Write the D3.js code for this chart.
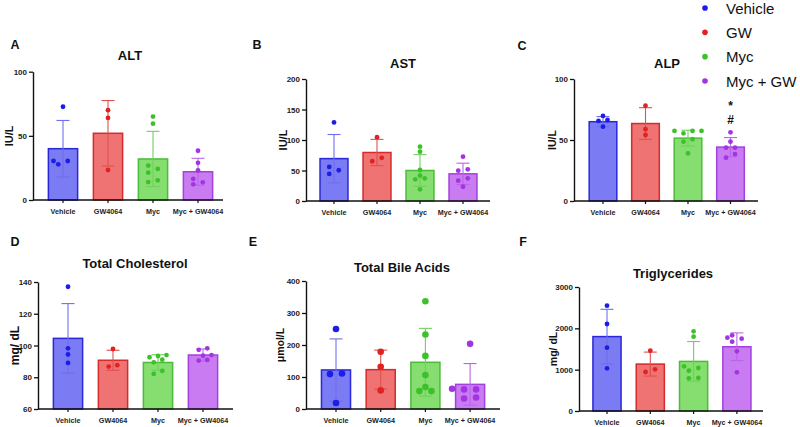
<!DOCTYPE html>
<html><head><meta charset="utf-8">
<script src="https://cdn.jsdelivr.net/npm/d3@7"></script>
<style>body{margin:0;background:#fff}svg{display:block;font-family:"Liberation Sans",Arial,Helvetica,sans-serif}</style>
</head><body><svg id="c" width="800" height="427"></svg>
<script>
const groups = ["Vehicle", "GW4064", "Myc", "Myc + GW4064"];
const legendLabels = ["Vehicle", "GW", "Myc", "Myc + GW"];

const altMean = [40, 52, 32, 22];
const altSD = [22, 25.5, 21.5, 10.5];
const altPts = [[72.7, 27.8, 30.4, 30.4], [70, 64, 23.4], [65, 59.5, 26.8, 24.2, 21.3, 14, 15.3], [38.4, 29, 23, 16.4, 12.2, 13.8]];
const altTicks = [0, 50, 100];

const astMean = [69.5, 79.5, 50, 44.5];
const astSD = [39.5, 21.5, 26, 17.5];
const astPts = [[128.8, 55.9, 44.4, 50.4], [104.7, 70.7, 65.2], [89, 80.8, 50.8, 41.5, 37.2, 35.6, 19.2], [72.6, 52, 49.7, 37.2, 33.3, 23.4]];
const astTicks = [0, 50, 100, 150, 200];

const alpMean = [65, 63.5, 51.5, 44.2];
const alpSD = [4.2, 13, 6.5, 7.8];
const alpPts = [[69.7, 66.4, 65.6, 60.9], [78.1, 58.8, 54.1], [57.4, 57.4, 57.4, 55.5, 50.6, 48.6, 39.1], [56.3, 48.6, 43.7, 43.7, 38.5, 35.5]];
const alpTicks = [0, 50, 100];
const alpMarks = ["*", "#"];

const cholMean = [104.5, 90.7, 89.3, 94];
const cholSD = [21.9, 6.3, 4.9, 3.8];
const cholPts = [[137, 98.2, 94.4, 89], [97.8, 86.7, 87.6], [94, 92.6, 93.4, 91.1, 89.4, 84, 82.1], [97.3, 98.2, 93.6, 94, 90.5, 90.9]];
const cholTicks = [60, 80, 100, 120, 140];

const tbaMean = [122, 123, 146, 77];
const tbaSD = [97, 61, 106, 65];
const tbaPts = [[250, 111, 109, 18.7], [178.7, 132, 58.2], [336.6, 232.7, 166, 106, 68.6, 56, 56], [203.6, 63.4, 61.3, 61.3, 33, 36]];
const tbaTicks = [0, 100, 200, 300, 400];

const tgMean = [1800, 1135, 1200, 1555];
const tgSD = [660, 290, 480, 335];
const tgPts = [[2548, 2105, 1532, 1032], [1460, 1008, 944], [1927, 1798, 1081, 1040, 976, 790, 798], [1831, 1774, 1750, 1677, 1444, 935]];
const tgTicks = [0, 1000, 2000, 3000];

const fills = ["#7b7bf4", "#ef7373", "#85de6f", "#c97cf1"];
const strokes = ["#2828d8", "#d42b2b", "#4cbd3a", "#a440de"];
const dotCols = ["#1d1de8", "#e02222", "#3dc12b", "#a334e2"];
const errCols = ["#6f6fee", "#e05050", "#72d05e", "#b865ea"];

const panels = [
  {letter:"A", title:"ALT", ylabel:"IU/L", mean:altMean, sd:altSD, pts:altPts, ticks:altTicks,
   x0:33, yb:200, yt:71.7, first:30, step:45, len:190, tx:130, ty:55, lx:15, ly:45, ylx:9, ylfs:11, r:2.4, d:9.5},
  {letter:"B", title:"AST", ylabel:"IU/L", mean:astMean, sd:astSD, pts:astPts, ticks:astTicks,
   x0:306, yb:201, yt:79, first:28, step:43, len:184, tx:403, ty:63, lx:257, ly:45, ylx:283, ylfs:11, r:2.4, d:9.5},
  {letter:"C", title:"ALP", ylabel:"IU/L", mean:alpMean, sd:alpSD, pts:alpPts, ticks:alpTicks, marks:alpMarks,
   x0:574, yb:201, yt:79, first:29, step:42.5, len:184, tx:667, ty:63, lx:522, ly:46, ylx:552, ylfs:10.5, r:2.4, d:9},
  {letter:"D", title:"Total Cholesterol", ylabel:"mg/ dL", mean:cholMean, sd:cholSD, pts:cholPts, ticks:cholTicks,
   x0:38, yb:409, yt:282, first:30, step:45, len:195, tx:135, ty:263, lx:15, ly:242, ylx:15, ylfs:12, r:2.4, d:8.5},
  {letter:"E", title:"Total Bile Acids", ylabel:"\u03bcmol/L", mean:tbaMean, sd:tbaSD, pts:tbaPts, ticks:tbaTicks,
   x0:306, yb:409, yt:281, first:30, step:44.7, len:194, tx:402, ty:267, lx:253, ly:242, ylx:280, ylfs:10.5, r:3.3, d:12},
  {letter:"F", title:"Triglycerides", ylabel:"mg/ dL", mean:tgMean, sd:tgSD, pts:tgPts, ticks:tgTicks,
   x0:579, yb:411, yt:287, first:28, step:43.3, len:184, tx:673, ty:273, lx:523, ly:242, ylx:553, ylfs:10.5, r:2.4, d:9.5}
];

function jitter(pys, d, r, T) {
  const n = pys.length;
  const idx = d3.range(n).sort((a, b) => pys[b] - pys[a]);
  const xs = new Array(n).fill(0);
  const clusters = []; let cur = [];
  idx.forEach(i => {
    if (cur.length && Math.abs(pys[i] - pys[cur[cur.length - 1]]) > T) { clusters.push(cur); cur = []; }
    cur.push(i);
  });
  if (cur.length) clusters.push(cur);
  const placed = [];
  const minD = 2 * r + 0.3;
  clusters.forEach(c => {
    if (c.length === 1) { xs[c[0]] = 0; placed.push(c[0]); return; }
    c.forEach((i, k) => {
      const s = k % 2 === 0 ? -1 : 1;
      const cands = [s * d / 2, -s * d / 2, 0, s * d, -s * d, s * 1.5 * d, -s * 1.5 * d, s * 2 * d, -s * 2 * d];
      for (const cx of cands) {
        if (placed.every(j => Math.hypot(xs[j] - cx, pys[j] - pys[i]) >= minD)) { xs[i] = cx; break; }
      }
      placed.push(i);
    });
  });
  return xs;
}

const svg = d3.select("#c");

panels.forEach(p => {
  const g = svg.append("g");
  const y = d3.scaleLinear().domain([p.ticks[0], p.ticks[p.ticks.length - 1]]).range([p.yb, p.yt]);
  const x = d3.scaleBand().domain(groups)
    .range([p.x0 + p.first - p.step / 2, p.x0 + p.first + 3.5 * p.step]).padding(0);
  const bw = p.step * 0.65;

  // bars
  g.selectAll("rect.bar").data(groups).join("rect")
    .attr("x", d => x(d) + x.bandwidth() / 2 - bw / 2)
    .attr("y", (d, i) => y(p.mean[i]))
    .attr("width", bw)
    .attr("height", (d, i) => y(p.ticks[0]) - y(p.mean[i]))
    .attr("fill", (d, i) => fills[i])
    .attr("stroke", (d, i) => strokes[i])
    .attr("stroke-width", 1.5);

  // error bars
  groups.forEach((gname, i) => {
    const cx = x(gname) + x.bandwidth() / 2;
    const lo = Math.max(p.mean[i] - p.sd[i], p.ticks[0]);
    const hi = p.mean[i] + p.sd[i];
    const eg = g.append("g").attr("stroke", errCols[i]).attr("stroke-width", 1.1).attr("fill", "none");
    eg.append("line").attr("x1", cx).attr("x2", cx).attr("y1", y(lo)).attr("y2", y(hi));
    eg.append("line").attr("x1", cx - 6.5).attr("x2", cx + 6.5).attr("y1", y(hi)).attr("y2", y(hi));
    if (p.mean[i] - p.sd[i] > p.ticks[0])
      eg.append("line").attr("x1", cx - 6.5).attr("x2", cx + 6.5).attr("y1", y(lo)).attr("y2", y(lo));
  });

  // dots
  groups.forEach((gname, i) => {
    const cx = x(gname) + x.bandwidth() / 2;
    const pys = p.pts[i].map(v => y(v));
    const xs = jitter(pys, p.d, p.r, 4.5);
    g.append("g").selectAll("circle").data(p.pts[i]).join("circle")
      .attr("cx", (v, k) => cx + xs[k])
      .attr("cy", v => y(v))
      .attr("r", p.r)
      .attr("fill", dotCols[i]);
  });

  // annotation marks
  if (p.marks) {
    const cx = x(groups[3]) + x.bandwidth() / 2;
    g.selectAll("text.mark").data(p.marks).join("text")
      .attr("x", cx).attr("y", (d, k) => 106 + k * 14)
      .attr("text-anchor", "middle").attr("dominant-baseline", "central")
      .attr("font-size", 12).attr("font-weight", "bold").attr("fill", "#111").text(d => d);
  }

  // y axis
  const ya = g.append("g").attr("transform", `translate(${p.x0},0)`)
    .call(d3.axisLeft(y).tickValues(p.ticks).tickFormat(d3.format("d")).tickSize(4).tickSizeOuter(0).tickPadding(2));
  ya.select(".domain").attr("stroke", "#111").attr("stroke-width", 1.4);
  ya.selectAll(".tick line").attr("stroke", "#111").attr("stroke-width", 1.3);
  ya.selectAll(".tick text").attr("font-size", 8).attr("font-weight", "bold").attr("fill", "#222")
    .style("font-family", '"Liberation Sans",Arial,sans-serif');

  // x axis
  const xa = g.append("g").attr("transform", `translate(0,${p.yb})`)
    .call(d3.axisBottom(x).tickSize(3).tickSizeOuter(0).tickPadding(5.5));
  xa.select(".domain").remove();
  xa.append("line").attr("x1", p.x0).attr("x2", p.x0 + p.len).attr("y1", 0).attr("y2", 0)
    .attr("stroke", "#111").attr("stroke-width", 1.4);
  xa.selectAll(".tick line").attr("stroke", "#111").attr("stroke-width", 1.2);
  xa.selectAll(".tick text").attr("font-size", 7.2).attr("font-weight", "bold").attr("fill", "#222")
    .style("font-family", '"Liberation Sans",Arial,sans-serif');

  // title
  g.append("text").attr("x", p.tx).attr("y", p.ty).attr("text-anchor", "middle")
    .attr("dominant-baseline", "central").attr("font-size", 13).attr("font-weight", "bold")
    .attr("fill", "#111").text(p.title);
  // panel letter
  g.append("text").attr("x", p.lx).attr("y", p.ly).attr("text-anchor", "middle")
    .attr("dominant-baseline", "central").attr("font-size", 12.5).attr("font-weight", "bold")
    .attr("fill", "#111").text(p.letter);
  // y label
  const yc = (p.yb + p.yt) / 2;
  g.append("text").attr("transform", `translate(${p.ylx},${yc}) rotate(-90)`)
    .attr("text-anchor", "middle").attr("dominant-baseline", "central")
    .attr("font-size", p.ylfs).attr("font-weight", "bold").attr("fill", "#111").text(p.ylabel);
});

// legend
const lg = svg.append("g");
const ly = d3.scalePoint().domain(legendLabels).range([8, 81]);
lg.selectAll("circle").data(legendLabels).join("circle")
  .attr("cx", 705).attr("cy", d => ly(d)).attr("r", 2.8).attr("fill", (d, i) => dotCols[i]);
lg.selectAll("text").data(legendLabels).join("text")
  .attr("x", 726).attr("y", d => ly(d)).attr("dominant-baseline", "central")
  .attr("font-size", 15).attr("fill", "#111").text(d => d);
</script></body></html>
